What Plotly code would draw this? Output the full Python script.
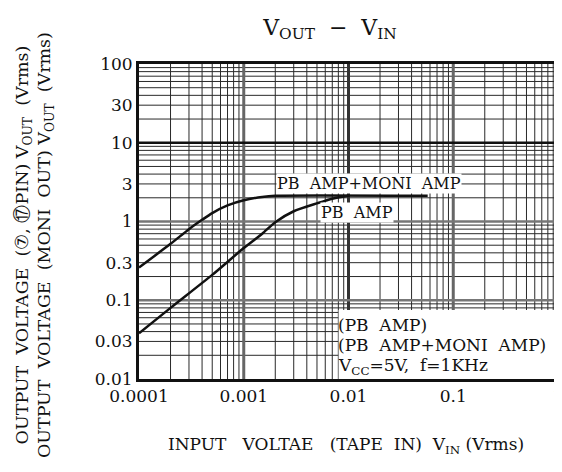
"""
V_OUT - V_IN characteristic (PB AMP / PB AMP+MONI AMP), log-log paper style.
"""

import plotly.graph_objects as go

# --- Data ---
vin_moni = [0.0001, 0.0002, 0.0003, 0.0004, 0.0005, 0.0007, 0.001, 0.0015, 0.002, 0.057]
vout_moni = [0.26, 0.52, 0.80, 1.05, 1.28, 1.60, 1.86, 2.05, 2.12, 2.12]

vin_pb = [0.0001, 0.0002, 0.0005, 0.001, 0.0015, 0.002, 0.003, 0.005, 0.007, 0.01]
vout_pb = [0.038, 0.08, 0.21, 0.46, 0.70, 0.98, 1.35, 1.70, 1.95, 2.12]

x_ticks = [0.0001, 0.001, 0.01, 0.1, 1]
x_ticktext = ["0.0001", "0.001", "0.01", "0.1", "1"]
y_ticks = [0.01, 0.03, 0.1, 0.3, 1, 3, 10, 30, 100]
y_ticktext = ["0.01", "0.03", "0.1", "0.3", "1", "3", "10", "30", "100"]

# --- Style ---
FONT = "DejaVu Serif"
INK = "#111111"
GRID = "#2a2a2a"
NB = "\u00a0"

# plot box in pixels (of the 562x472 page)
L, R, T, B = 131, 555, 56, 371
W, H = 562, 472


def px_to_paper(px, py):
    return (px - L) / (R - L), (B - py) / (B - T)


# log paper: lines at 2..9 in every decade
x_minor = [m * 10.0 ** e for e in range(-4, 0) for m in range(2, 10)]
y_minor = [m * 10.0 ** e for e in range(-2, 2) for m in range(2, 10)]

fig = go.Figure()

for xs, ys in ((vin_moni, vout_moni), (vin_pb, vout_pb)):
    fig.add_trace(
        go.Scatter(
            x=xs, y=ys, mode="lines",
            line=dict(color=INK, width=2.5, shape="spline", smoothing=0.6),
            showlegend=False, hoverinfo="x+y",
        )
    )

shapes = []
for v in x_minor:
    shapes.append(dict(type="line", xref="x", yref="paper", x0=v, x1=v, y0=0, y1=1,
                       line=dict(color=GRID, width=1), layer="below"))
for v in y_minor:
    shapes.append(dict(type="line", xref="paper", yref="y", x0=0, x1=1, y0=v, y1=v,
                       line=dict(color=GRID, width=1), layer="below"))

# decade lines, heavier than the minor grid
for v, col in ((0.001, "#666666"), (0.01, "#333333"), (0.1, "#666666")):
    shapes.append(dict(type="line", xref="x", yref="paper", x0=v, x1=v, y0=0, y1=1,
                       line=dict(color=col, width=3), layer="below"))
for v, col in ((0.1, "#777777"), (1, "#777777"), (10, INK)):
    shapes.append(dict(type="line", xref="paper", yref="y", x0=0, x1=1, y0=v, y1=v,
                       line=dict(color=col, width=2.5), layer="below"))

# white box for the lower-right notes
bx0, by1 = px_to_paper(333, 302)
shapes.append(dict(type="rect", xref="paper", yref="paper", x0=bx0, x1=1, y0=0, y1=by1,
                   fillcolor="white", line=dict(width=0), layer="between"))

annotations = []


def note(text, px, py, size=16, anchor="left", bg=None):
    ax, ay = px_to_paper(px, py)
    annotations.append(dict(
        text=text, xref="paper", yref="paper", x=ax, y=ay,
        xanchor=anchor, yanchor="middle", showarrow=False,
        font=dict(family=FONT, size=size, color=INK),
        bgcolor=bg, borderpad=0,
    ))


note(f"PB{NB*2}AMP+MONI{NB*2}AMP", 270, 175, bg="white")
note(f"PB{NB*2}AMP", 314, 204, bg="white")
note(f"(PB{NB*2}AMP)", 331, 317, size=17)
note(f"(PB{NB*2}AMP+MONI{NB*2}AMP)", 331, 337, size=17)
note(f"V<sub>CC</sub>=5V,{NB*2}f=1KHz", 331, 358, size=17)

# y titles, two rotated lines
for text, px in (
    (f"OUTPUT{NB*2}VOLTAGE{NB*2}(⑦,{NB}⑰PIN){NB}V<sub>OUT</sub>{NB*2}(Vrms)", 14),
    (f"OUTPUT{NB*2}VOLTAGE{NB*2}(MONI{NB*2}OUT){NB}V<sub>OUT</sub>{NB*2}(Vrms)", 36),
):
    ax, ay = px_to_paper(px, 237)
    annotations.append(dict(
        text=text, xref="paper", yref="paper", x=ax, y=ay,
        xanchor="center", yanchor="middle", textangle=-90, showarrow=False,
        font=dict(family=FONT, size=17.5, color=INK),
    ))

# x title
ax, ay = px_to_paper(340, 437)
annotations.append(dict(
    text=f"INPUT{NB*3}VOLTAE{NB*3}(TAPE{NB*2}IN){NB*2}V<sub>IN</sub>{NB}(Vrms)",
    xref="paper", yref="paper", x=ax, y=ay, xanchor="center", yanchor="middle",
    showarrow=False, font=dict(family=FONT, size=17, color=INK),
))

fig.update_layout(
    width=W, height=H,
    margin=dict(l=L, r=W - R, t=T, b=H - B),
    paper_bgcolor="white", plot_bgcolor="white",
    title=dict(
        text=f"V<sub>OUT</sub>{NB*2}−{NB*2}V<sub>IN</sub>",
        x=322 / W, xref="container", xanchor="center",
        y=1 - 19 / H, yref="container", yanchor="middle",
        font=dict(family=FONT, size=22, color=INK),
    ),
    xaxis=dict(
        type="log", range=[-4, 0],
        tickmode="array", tickvals=x_ticks, ticktext=x_ticktext, ticks="",
        ticklabeloverflow="allow",
        tickfont=dict(family=FONT, size=17, color=INK),
        showgrid=False, zeroline=False,
        showline=True, mirror=True, linecolor=INK, linewidth=3,
    ),
    yaxis=dict(
        type="log", range=[-2, 2],
        tickmode="array", tickvals=y_ticks, ticktext=y_ticktext, ticks="",
        tickfont=dict(family=FONT, size=17, color=INK),
        showgrid=False, zeroline=False,
        showline=True, mirror=True, linecolor=INK, linewidth=3,
    ),
    shapes=shapes,
    annotations=annotations,
)

fig.write_html("out.html")
